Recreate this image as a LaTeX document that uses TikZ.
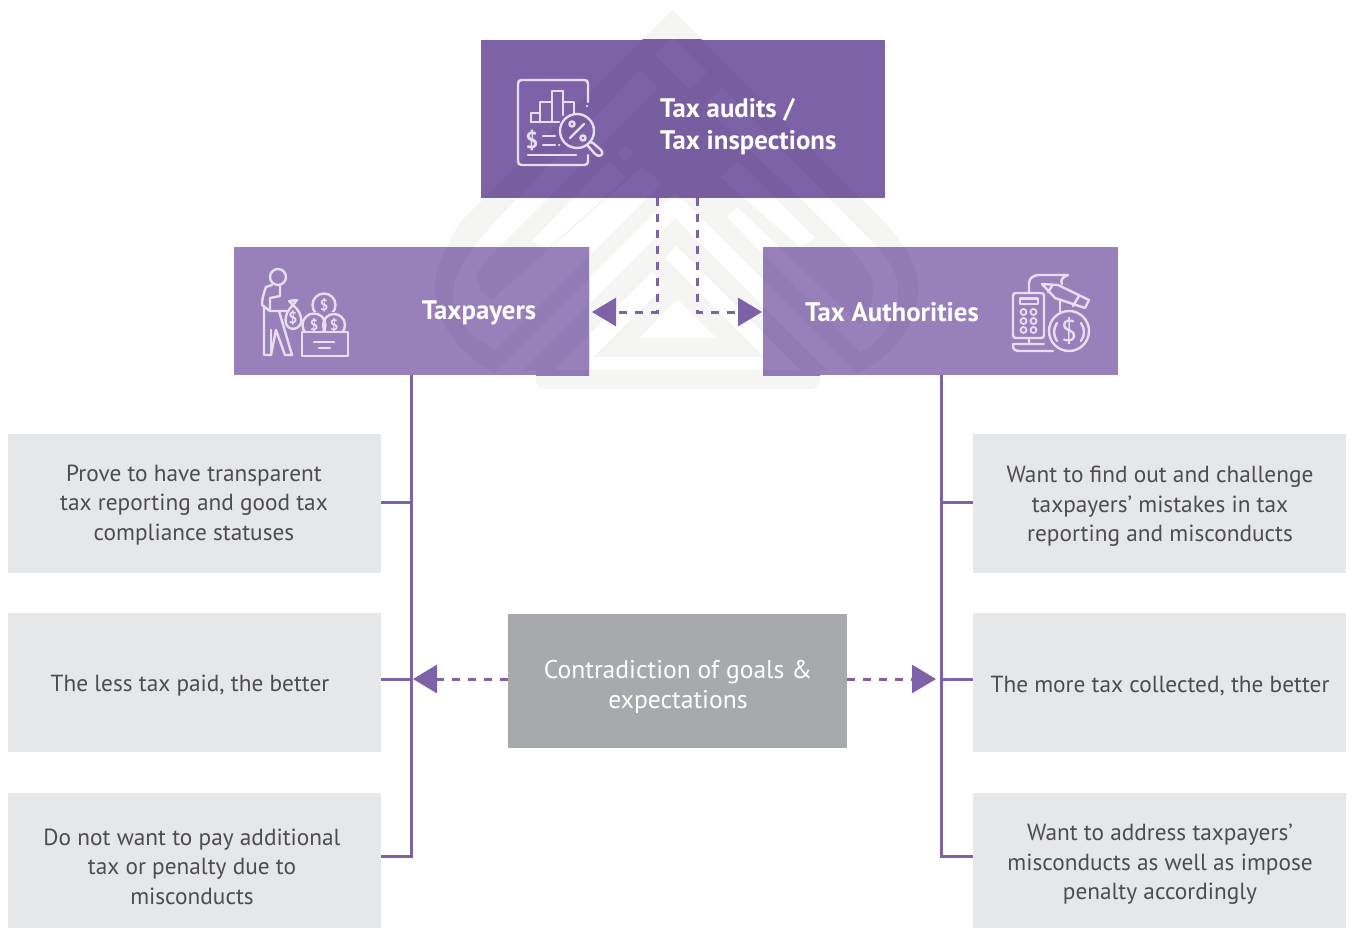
\documentclass[tikz,border=0pt]{standalone}
\usepackage{fontspec}
\setmainfont{PT Sans}
\usetikzlibrary{arrows.meta}
\definecolor{topc}{HTML}{7D62A8}
\definecolor{midc}{HTML}{9880BB}
\definecolor{topd}{HTML}{785DA0}
\definecolor{midd}{HTML}{917BB4}
\definecolor{wmg}{HTML}{F5F5F3}
\definecolor{gbx}{HTML}{E6E7E8}
\definecolor{cbx}{HTML}{A7A9AC}
\definecolor{txt}{HTML}{4D4D4F}
\definecolor{ico}{HTML}{E6DFF0}
\newcommand\wmark[2]{%
 \fill[#1] (672,10) -- (883,221) .. controls (905,243) and (918,265) .. (918,290) .. controls (918,325) and (890,360) .. (857,373) -- (820,370) -- (820,380) .. controls (820,386) and (816,389) .. (810,389) -- (546,389) .. controls (540,389) and (536,386) .. (536,380) -- (536,370) -- (500,375) .. controls (465,360) and (435,325) .. (435,290) .. controls (435,265) and (448,243) .. (461,221) -- cycle;
 \fill[#2] (640,70) -- (658,88) -- (490,256) .. controls (474,272) and (470,285) .. (492,300) -- (642,167) -- (662,183) -- (495,350) .. controls (470,335) and (453,320) .. (453,295) .. controls (453,280) and (460,256) .. (518,198) -- cycle;
 \fill[#2] (609,161) -- (626,178) -- (547,249) -- (532,241) -- cycle;
 \fill[#2] (625,145) -- (633,153) -- (625,162) -- (617,153) -- cycle;
 \fill[#2] (655,55) -- (673,38) -- (707,72) -- (690,90) -- (673,73) -- cycle;
 \fill[#2] (722,88) -- (704,106) -- (800,198) -- (850,248) .. controls (870,268) and (885,290) .. (860,325) -- (737,207) -- (727,217) -- (860,352) .. controls (885,340) and (898,315) .. (898,290) .. controls (898,270) and (885,255) .. (870,240) -- cycle;
 \fill[#2] (738,161) -- (720,177) -- (800,247) -- (815,238) -- cycle;
 \fill[#2] (675,192) -- (492.6,374.4) -- (518.6,374.4) -- (675,218) -- (831.4,374.4) -- (857.4,374.4) -- cycle;
 \fill[#2] (652,272) -- (665,285) -- (593,357) -- (764,357) -- (665,258) -- (676,246) -- (800,370) -- (554,370) -- cycle;
 \fill[#2] (640,338) -- (716,338) -- (677,299) -- cycle;
}
\tikzset{
 gbox/.style={fill=gbx,draw=none,inner sep=0pt,anchor=north west},
 pbox/.style={draw=none,inner sep=0pt,anchor=north west},
 body/.style={text=txt,align=center,inner sep=0pt,font=\fontsize{23.3}{29.5}\selectfont},
 head/.style={text=white,inner sep=0pt,font=\fontsize{26.8}{32}\bfseries\selectfont},
 conn/.style={draw=topc,line width=3pt},
 dashln/.style={draw=topc,line width=3pt,dash pattern=on 8pt off 8pt,-{Triangle[length=24pt,width=28pt,fill=topc]}},
 icon/.style={draw=ico,line width=2.4pt,line cap=round,line join=round,fill=none},
 dollar/.style={text=ico,inner sep=0pt,font=\bfseries},
}
\begin{document}
\begin{tikzpicture}[x=1pt,y=-1pt]
\useasboundingbox (0,0) rectangle (1354,928);
\wmark{wmg}{white}
% boxes
\node[pbox,fill=topc,minimum width=404pt,minimum height=158pt] (topb) at (481,40) {};
\node[pbox,fill=midc,minimum width=355pt,minimum height=128pt] (tp) at (234,247) {};
\node[pbox,fill=midc,minimum width=355pt,minimum height=128pt] (ta) at (763,247) {};
\begin{scope}\clip (481,40) rectangle (885,198); \wmark{topd}{topc}\end{scope}
\begin{scope}\clip (234,247) rectangle (589,375); \wmark{midd}{midc}\end{scope}
\begin{scope}\clip (763,247) rectangle (1118,375); \wmark{midd}{midc}\end{scope}
\node[gbox,minimum width=373pt,minimum height=139pt] (l1) at (8,434) {};
\node[gbox,minimum width=373pt,minimum height=139pt] (l2) at (8,613) {};
\node[gbox,minimum width=373pt,minimum height=135pt] (l3) at (8,793) {};
\node[gbox,minimum width=373pt,minimum height=139pt] (r1) at (973,434) {};
\node[gbox,minimum width=373pt,minimum height=139pt] (r2) at (973,613) {};
\node[gbox,minimum width=373pt,minimum height=135pt] (r3) at (973,793) {};
\node[pbox,fill=cbx,minimum width=339pt,minimum height=134pt] (mid) at (508,614) {};
% connectors
\coordinate (tl) at (411,375); \coordinate (tr) at (941,375);
\coordinate (bl) at (411,856); \coordinate (br) at (941,856);
\coordinate (yl1) at (0,502); \coordinate (yl2) at (0,679); \coordinate (yl3) at (0,856);
\draw[conn] (tl) -- (bl) -- (bl -| l3.east);
\draw[conn] (tr) -- (br) -- (br -| r3.west);
\draw[conn] (l1.east |- yl1) -- (tl |- yl1);
\draw[conn] (l2.east |- yl2) -- (tl |- yl2);
\draw[conn] (r1.west |- yl1) -- (tr |- yl1);
\draw[conn] (r2.west |- yl2) -- (tr |- yl2);
\coordinate (da) at (657,198); \coordinate (db) at (697,198);
\coordinate (ea) at (592,312); \coordinate (eb) at (762,312);
\coordinate (fa) at (413,679); \coordinate (fb) at (936,679);
\draw[dashln] (da) |- (ea);
\draw[dashln] (db) |- (eb);
\draw[dashln] (mid.west |- fa) -- (fa);
\draw[dashln] (mid.east |- fb) -- (fb);
% texts
\node[head,anchor=west,align=left] (topt) at (660,126.5) {Tax audits /\\Tax inspections};
\node[head] (tpt) at (479,313) {Taxpayers};
\node[head] (tat) at (892,312) {Tax Authorities};
\node[body] (l1t) at (194,505) {Prove to have transparent\\tax reporting and good tax\\compliance statuses};
\node[body] (l2t) at (190,686) {The less tax paid, the better};
\node[body] (l3t) at (192,866.5) {Do not want to pay additional\\tax or penalty due to\\misconducts};
\node[body] (r1t) at (1160,506.5) {Want to find out and challenge\\taxpayers’ mistakes in tax\\reporting and misconducts};
\node[body] (r2t) at (1160,686) {The more tax collected, the better};
\node[body] (r3t) at (1160,864.5) {Want to address taxpayers’\\misconducts as well as impose\\penalty accordingly};
\node[body,text=white,font=\fontsize{25.6}{30}\selectfont] (midt) at (678,687) {Contradiction of goals \&\\expectations};
% icon 1
\draw[icon] (588,102) -- (588,84) .. controls (588,81) and (587,80) .. (584,80) -- (522,80) .. controls (519,80) and (518,81) .. (518,84) -- (518,161) .. controls (518,164) and (519,165) .. (522,165) -- (584,165) .. controls (587,165) and (588,164) .. (588,161) -- (588,155);
\draw[icon] (587,106) -- (587,106.2);
\draw[icon] (531,122) -- (531,113) -- (540,113) -- (540,102) -- (552,102) -- (552,91) -- (563,91) -- (563,102) -- (574,102) -- (574,113);
\draw[icon] (531,122) -- (559,122) (540,113) -- (540,122) (552,102) -- (552,122) (563,91) -- (563,115);
\draw[icon] (577,131) circle[radius=17];
\draw[icon] (570,138) -- (584,124);
\draw[icon] (572,124) circle[radius=2.6] (583,138) circle[radius=2.6];
\draw[icon] (590,142) -- (593,143) -- (601,150) .. controls (605,155) and (599,158) .. (595,154) -- (588,146);
\node[dollar,font=\fontsize{23}{23}\bfseries\selectfont] (dol1) at (532,140) {\$};
\draw[icon] (543,136) -- (555,136) (543,145) -- (555,145) (559,145) -- (559.2,145) (528,155) -- (576,155);
% icon 2
\draw[icon] (278,277) circle[radius=8];
\draw[icon] (272,285) -- (266,287) .. controls (263,295) and (262,300) .. (262,305) -- (270,311) -- (287,311);
\draw[icon] (280,286) -- (280,296) -- (270,298) -- (270,309);
\draw[icon] (264,307) -- (264,355) -- (271,355) -- (276,330) -- (285,355) -- (292,355) -- (279,311);
\draw[icon] (271,330) -- (271,355);
\draw[icon] (293,305) -- (297,300) -- (289,301) -- (293,305) .. controls (283,314) and (283,328) .. (293,329) .. controls (304,328) and (304,314) .. (293,305);
\node[dollar,font=\fontsize{16}{16}\bfseries\selectfont] (dol2) at (293,318) {\$};
\draw[icon] (302,332) rectangle (348,356);
\draw[icon] (314,342) -- (334,342) (319,348) -- (330,348);
\begin{scope}\clip (295,300) rectangle (355,331);
\draw[icon] (314,325) circle[radius=11.5] (334,325) circle[radius=11];
\end{scope}
\begin{scope}\clip (305,285) rectangle (345,311);
\draw[icon] (324,305) circle[radius=11.5];
\end{scope}
\node[dollar,font=\fontsize{15}{15}\bfseries\selectfont] (dol3) at (324,305) {\$};
\node[dollar,font=\fontsize{15}{15}\bfseries\selectfont] (dol4) at (314,325) {\$};
\node[dollar,font=\fontsize{15}{15}\bfseries\selectfont] (dol5) at (334,325) {\$};
% icon 3
\draw[icon] (1016,293) -- (1041,293) .. controls (1043,293) and (1044,294) .. (1044,296) -- (1044,335) .. controls (1044,337) and (1043,338) .. (1041,338) -- (1016,338) .. controls (1014,338) and (1013,337) .. (1013,335) -- (1013,296) .. controls (1013,294) and (1014,293) .. (1016,293) -- cycle;
\draw[icon] (1020,298.5) rectangle (1038,304);
\foreach \py in {312,321,330}{\draw[icon,line width=1.8pt] (1023.5,\py) circle[radius=3] (1033.5,\py) circle[radius=3];}
\draw[icon] (1029,338) -- (1029,343) (1013,344) -- (1044,344) (1013,344) .. controls (1012,350) and (1016,351) .. (1020,351) -- (1053,351);
\draw[icon] (1029,292) -- (1029,283) .. controls (1029,278) and (1034,275) .. (1039,275) -- (1068,275) .. controls (1062,277) and (1060,281) .. (1062,284);
\draw[icon] (1060,300) -- (1060,312);
\draw[icon] (1042,284) -- (1055,298) -- (1085,308) -- (1089,300) -- (1058,285) -- (1042,284);
\draw[icon] (1052,286) -- (1048,292) (1079,296) -- (1073,306);
\draw[icon] (1069,331) circle[radius=20];
\draw[icon] (1057,323) .. controls (1053,329) and (1053,335) .. (1057,341) (1081,323) .. controls (1085,329) and (1085,335) .. (1081,341);
\node[dollar,font=\fontsize{30}{30}\selectfont] (dol6) at (1069,331) {\$};
\end{tikzpicture}
\end{document}
